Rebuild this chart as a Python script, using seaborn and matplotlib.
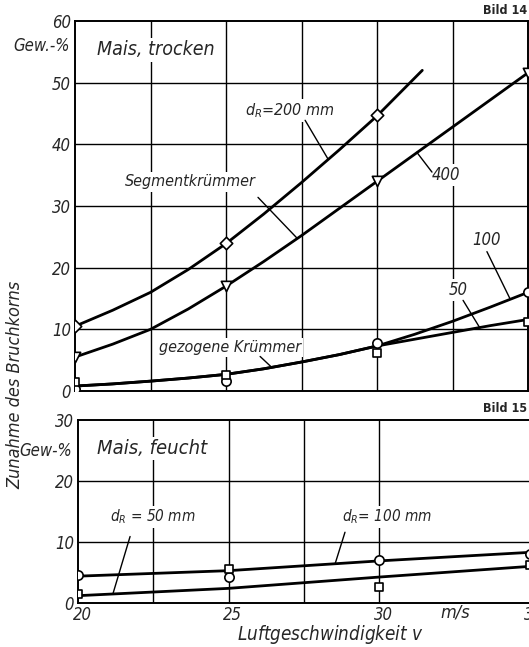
import matplotlib
matplotlib.use("Agg")
import matplotlib.pyplot as plt
import matplotlib.transforms as mtransforms
import seaborn as sns

sns.set_style("white")
plt.rcParams["font.family"] = ["DejaVu Sans"]
plt.rcParams["font.style"] = "italic"
plt.rcParams["font.stretch"] = "condensed"
plt.rcParams["mathtext.fontset"] = "dejavusans"
plt.rcParams["mathtext.default"] = "it"

# -----------------------------
# Bild 14: Mais, trocken
# -----------------------------
v_meas = [20, 25, 30, 35]
seg200_pts = [10.5, 24.0, 44.7]
seg400_pts = [5.5, 17.0, 34.0, 51.5]
gez100_pts = [0.4, 1.7, 7.8, 16.0]
gez50_pts = [1.4, 2.6, 6.2, 11.2]

# curve traces
v_curve = [20, 21.25, 22.5, 23.75, 25, 26.25, 27.5, 28.75, 30, 31.25, 32.5, 33.75, 35]
v_seg200 = [20, 21.25, 22.5, 23.75, 25, 26.25, 27.5, 28.75, 30, 31.5]
seg200_curve = [10.5, 13.1, 16.0, 19.7, 23.9, 28.7, 33.8, 39.1, 44.6, 52.0]
seg400_curve = [5.5, 7.6, 10.0, 13.3, 17.0, 21.0, 25.2, 29.6, 34.0, 38.4, 42.8, 47.2, 51.6]
gez100_curve = [0.8, 1.15, 1.6, 2.1, 2.7, 3.6, 4.7, 5.9, 7.3, 9.2, 11.3, 13.6, 16.0]
gez50_curve = [0.8, 1.15, 1.6, 2.1, 2.7, 3.6, 4.7, 5.9, 7.3, 8.4, 9.5, 10.6, 11.6]

# -----------------------------
# Bild 15: Mais, feucht
# -----------------------------
feucht100_pts = [4.6, 4.3, 7.1, 8.1]
feucht50_pts = [1.5, 5.6, 2.7, 6.2]
feucht100_line = [4.4, 5.3, 6.9, 8.3]
feucht50_line = [1.2, 2.4, 4.25, 6.0]

W, H = 529, 647
fig = plt.figure(figsize=(W / 100, H / 100), dpi=100)
ax1 = fig.add_axes([75 / W, 1 - 391 / H, (528 - 75) / W, (391 - 21) / H])
ax2 = fig.add_axes([78 / W, 1 - 603 / H, (529.5 - 78) / W, (603 - 420) / H])

LW = 2.0
GRID = dict(color="black", lw=1.0, zorder=0)
BOX = dict(facecolor="white", edgecolor="none", pad=1.5)
LEAD = dict(arrowstyle="-", lw=1.0, color="black", shrinkA=0, shrinkB=0)
MK = dict(color="white", edgecolor="black", linewidth=1.2, zorder=5, legend=False)


def frame(ax, ymax, vgrid):
    ax.set_xlim(20, 35)
    ax.set_ylim(0, ymax)
    for x in vgrid:
        ax.axvline(x, **GRID)
    for y in range(10, ymax, 10):
        ax.axhline(y, **GRID)
    ax.set_yticks(range(0, ymax + 1, 10))
    ax.tick_params(length=0, labelsize=12, pad=3)
    for s in ax.spines.values():
        s.set_linewidth(1.4)
        s.set_color("black")


# ---- top panel ----
frame(ax1, 60, [22.5, 25, 27.5, 30, 32.5])
ax1.set_xticks([])

sns.lineplot(x=v_seg200, y=seg200_curve, ax=ax1, color="black", lw=LW)
sns.lineplot(x=v_curve, y=seg400_curve, ax=ax1, color="black", lw=LW)
sns.lineplot(x=v_curve, y=gez100_curve, ax=ax1, color="black", lw=LW)
sns.lineplot(x=v_curve, y=gez50_curve, ax=ax1, color="black", lw=LW)

sns.scatterplot(x=v_meas[:3], y=seg200_pts, ax=ax1, marker="D", s=40, **MK)
sns.scatterplot(x=v_meas, y=seg400_pts, ax=ax1, marker="v", s=55, **MK)
sns.scatterplot(x=v_meas, y=gez100_pts, ax=ax1, marker="o", s=45, **MK)
sns.scatterplot(x=v_meas, y=gez50_pts, ax=ax1, marker="s", s=36, **MK)

ax1.text(20.73, 55.3, "Mais, trocken", fontsize=14, va="center", bbox=BOX)
ax1.text(25.63, 45.5, "$d_R$=200 mm", fontsize=11.5, va="center", bbox=BOX)
ax1.text(23.81, 33.9, "Segmentkrümmer", fontsize=11.5, ha="center", va="center", bbox=BOX)
ax1.text(32.28, 35.0, "400", fontsize=12, ha="center", va="center", bbox=BOX)
ax1.text(33.64, 24.5, "100", fontsize=12, ha="center", va="center", bbox=BOX)
ax1.text(32.7, 16.4, "50", fontsize=12, ha="center", va="center", bbox=BOX)
ax1.text(25.13, 7.1, "gezogene Krümmer", fontsize=11.5, ha="center", va="center", bbox=BOX)

ax1.annotate("", xy=(28.38, 37.6), xytext=(27.62, 43.9), arrowprops=LEAD)
ax1.annotate("", xy=(27.35, 24.8), xytext=(26.06, 31.4), arrowprops=LEAD)
ax1.annotate("", xy=(31.32, 38.7), xytext=(31.82, 35.5), arrowprops=LEAD)
ax1.annotate("", xy=(34.4, 15.0), xytext=(33.64, 22.6), arrowprops=LEAD)
ax1.annotate("", xy=(33.41, 10.2), xytext=(32.85, 14.7), arrowprops=LEAD)
ax1.annotate("", xy=(26.5, 3.9), xytext=(26.13, 5.6), arrowprops=LEAD)

ax1.text(-0.012, 56, "Gew.-%", transform=ax1.get_yaxis_transform(),
         fontsize=12, ha="right", va="center")

# ---- bottom panel ----
frame(ax2, 30, [22.5, 25, 27.5, 30])
ax2.set_xticks(v_meas)
ax2.tick_params(axis="x", pad=2)
shift = mtransforms.ScaledTranslation(4 / 100, 0, fig.dpi_scale_trans)
for lab in ax2.get_xticklabels():
    lab.set_transform(lab.get_transform() + shift)

sns.lineplot(x=v_meas, y=feucht100_line, ax=ax2, color="black", lw=LW)
sns.lineplot(x=v_meas, y=feucht50_line, ax=ax2, color="black", lw=LW)
sns.scatterplot(x=v_meas, y=feucht100_pts, ax=ax2, marker="o", s=45, **MK)
sns.scatterplot(x=v_meas, y=feucht50_pts, ax=ax2, marker="s", s=36, **MK)

ax2.text(20.63, 25.3, "Mais, feucht", fontsize=14.5, va="center", bbox=BOX)
ax2.text(21.06, 14.1, "$d_R$ = 50 mm", fontsize=11, va="center", bbox=BOX)
ax2.text(28.77, 14.1, "$d_R$= 100 mm", fontsize=11, va="center", bbox=BOX)
ax2.annotate("", xy=(21.16, 1.5), xytext=(21.73, 10.9), arrowprops=LEAD)
ax2.annotate("", xy=(28.54, 6.4), xytext=(28.87, 11.6), arrowprops=LEAD)
ax2.text(32.52, -1.5, "m/s", fontsize=13, ha="center", va="center")
ax2.text(-0.013, 24.9, "Gew-%", transform=ax2.get_yaxis_transform(),
         fontsize=12, ha="right", va="center")

# ---- figure texts ----
fig.text(527 / W, 1 - 10 / H, "Bild 14", fontsize=9, style="normal",
         weight="bold", ha="right", va="center")
fig.text(527 / W, 1 - 408 / H, "Bild 15", fontsize=9, style="normal",
         weight="bold", ha="right", va="center")
fig.text(330 / W, 1 - 634 / H, "Luftgeschwindigkeit $v$", fontsize=13.5,
         ha="center", va="center")
fig.text(15 / W, 1 - 385 / H, "Zunahme des Bruchkorns", fontsize=13,
         rotation=90, ha="center", va="center")

fig.savefig("out.png", dpi=100)
